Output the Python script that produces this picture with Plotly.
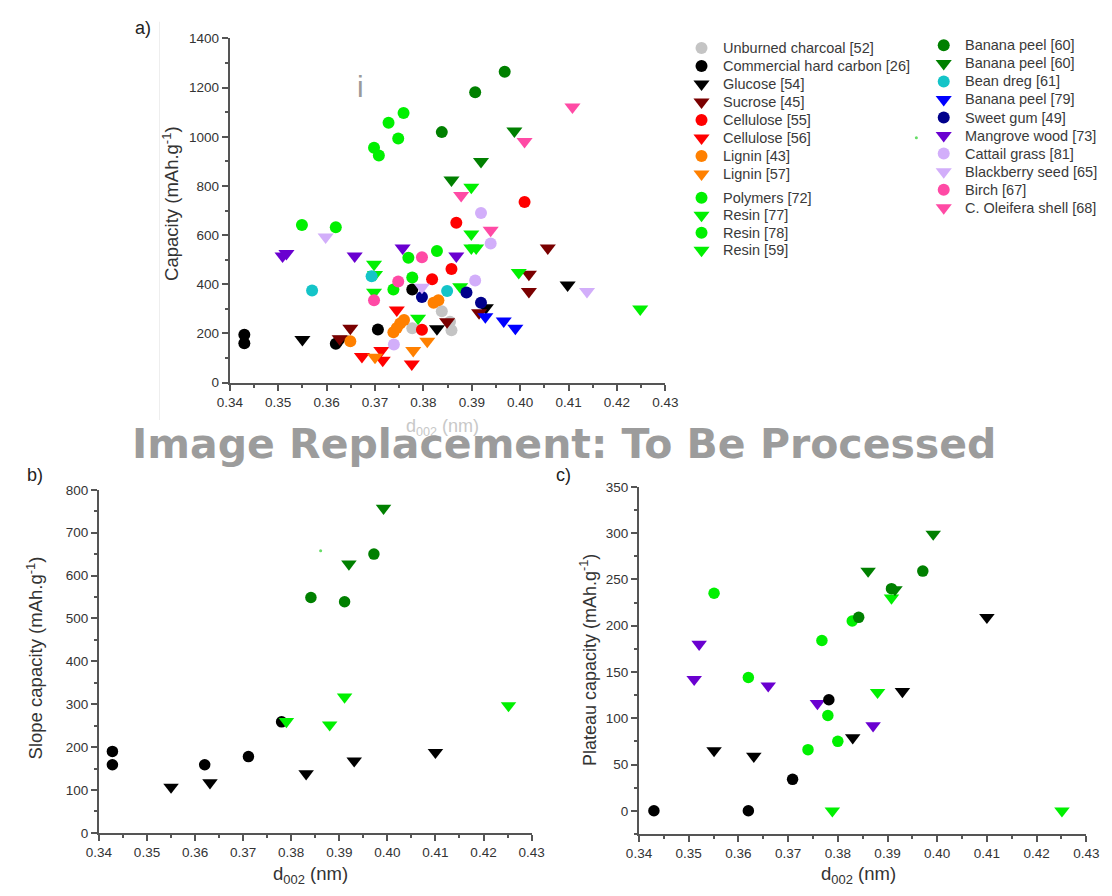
import plotly.graph_objects as go

W, H = 1112, 896

# ---------------- Panel a: total capacity vs d002 ----------------
unburned_x = [0.3777, 0.3838, 0.3855, 0.3858]
unburned_y = [221, 290, 248, 213]
hard_carbon_x = [0.3430, 0.3430, 0.3619, 0.3706, 0.3777]
hard_carbon_y = [195, 160, 158, 216, 379]
glucose_x = [0.3550, 0.3630, 0.3828, 0.3929, 0.4098]
glucose_y = [175, 176, 219, 304, 397]
sucrose_x = [0.3627, 0.3649, 0.3849, 0.3915, 0.4018, 0.4018, 0.4057]
sucrose_y = [178, 221, 248, 284, 441, 371, 548]
cell55_x = [0.3797, 0.3818, 0.3858, 0.3868, 0.4009]
cell55_y = [215, 420, 462, 650, 735]
cell56_x = [0.3673, 0.3713, 0.3716, 0.3745, 0.3776]
cell56_y = [106, 131, 91, 295, 76]
lignin43_x = [0.3649, 0.3738, 0.3745, 0.3752, 0.3760, 0.3821, 0.3831]
lignin43_y = [168, 205, 222, 240, 255, 325, 335]
lignin57_x = [0.3700, 0.3779, 0.3808]
lignin57_y = [103, 131, 168]
polymers_x = [0.3549, 0.3619, 0.3738, 0.3769, 0.3777, 0.3828]
polymers_y = [641, 632, 379, 508, 428, 535]
resin77_x = [0.3789, 0.3876, 0.3899, 0.4248]
resin77_y = [262, 390, 548, 299]
resin78_x = [0.3698, 0.3708, 0.3728, 0.3748, 0.3759]
resin78_y = [955, 924, 1057, 993, 1097]
resin59_x = [0.3698, 0.3700, 0.3698, 0.3909, 0.3899, 0.3899, 0.3997]
resin59_y = [481, 440, 368, 548, 605, 795, 448]
banana60c_x = [0.3838, 0.3907, 0.3968]
banana60c_y = [1019, 1181, 1265]
banana60t_x = [0.3858, 0.3919, 0.3988]
banana60t_y = [824, 899, 1024]
bean_x = [0.3570, 0.3693, 0.3849]
bean_y = [375, 433, 373]
banana79_x = [0.3928, 0.3966, 0.3990]
banana79_y = [268, 251, 221]
sweetgum_x = [0.3797, 0.3889, 0.3919]
sweetgum_y = [348, 367, 325]
mangrove_x = [0.3509, 0.3517, 0.3658, 0.3757, 0.3868]
mangrove_y = [515, 525, 515, 548, 515]
cattail_x = [0.3739, 0.3907, 0.3919, 0.3939]
cattail_y = [155, 415, 690, 566]
blackberry_x = [0.3598, 0.3797, 0.4138]
blackberry_y = [592, 388, 371]
birch_x = [0.3698, 0.3748, 0.3797]
birch_y = [335, 411, 510]
oleifera_x = [0.3878, 0.3939, 0.4009, 0.4108]
oleifera_y = [761, 620, 981, 1121]

# ---------------- Panel b: slope capacity ----------------
b_hc_x = [0.3428, 0.3428, 0.3620, 0.3711, 0.3780]
b_hc_y = [190, 159, 159, 178, 259]
b_glu_x = [0.3550, 0.3631, 0.3831, 0.3931, 0.4100]
b_glu_y = [107, 117, 138, 168, 188]
b_resin_x = [0.3790, 0.3880, 0.3911, 0.4252]
b_resin_y = [260, 252, 317, 297]
b_banc_x = [0.3841, 0.3911, 0.3972]
b_banc_y = [549, 539, 650]
b_bant_x = [0.3920, 0.3992]
b_bant_y = [627, 757]

# ---------------- Panel c: plateau capacity ----------------
c_mang_x = [0.3511, 0.3521, 0.3660, 0.3759, 0.3871]
c_mang_y = [142, 180, 135, 116, 92]
c_hc_x = [0.3430, 0.3620, 0.3709, 0.3782]
c_hc_y = [0, 0, 34, 120]
c_glu_x = [0.3551, 0.3631, 0.3830, 0.3930, 0.4100]
c_glu_y = [65, 59, 79, 129, 209]
c_poly_x = [0.3551, 0.3620, 0.3740, 0.3768, 0.3780, 0.3800, 0.3829]
c_poly_y = [235, 144, 66, 184, 103, 75, 205]
c_resin_x = [0.3789, 0.3880, 0.3908, 0.4251]
c_resin_y = [0, 128, 230, 0]
c_banc_x = [0.3842, 0.3908, 0.3971]
c_banc_y = [209, 240, 259]
c_bant_x = [0.3861, 0.3915, 0.3992]
c_bant_y = [259, 239, 299]

GRAY = "#C4C4C4"; BLACK = "#000000"; MAROON = "#7A0000"; RED = "#FF0000"
ORANGE = "#FF8000"; LIME = "#00F000"; DGREEN = "#008000"; CYAN = "#14C4C8"
BLUE = "#0000FF"; NAVY = "#00008B"; PURPLE = "#6A00D0"; LAV = "#D2AEFA"
PINK = "#FF4AA5"

col1 = [
    ("Unburned charcoal [52]", GRAY, "circle", unburned_x, unburned_y),
    ("Commercial hard carbon [26]", BLACK, "circle", hard_carbon_x, hard_carbon_y),
    ("Glucose [54]", BLACK, "triangle-down", glucose_x, glucose_y),
    ("Sucrose [45]", MAROON, "triangle-down", sucrose_x, sucrose_y),
    ("Cellulose [55]", RED, "circle", cell55_x, cell55_y),
    ("Cellulose [56]", RED, "triangle-down", cell56_x, cell56_y),
    ("Lignin [43]", ORANGE, "circle", lignin43_x, lignin43_y),
    ("Lignin [57]", ORANGE, "triangle-down", lignin57_x, lignin57_y),
    ("Polymers [72]", LIME, "circle", polymers_x, polymers_y),
    ("Resin [77]", LIME, "triangle-down", resin77_x, resin77_y),
    ("Resin [78]", LIME, "circle", resin78_x, resin78_y),
    ("Resin [59]", LIME, "triangle-down", resin59_x, resin59_y),
]
col2 = [
    ("Banana peel [60]", DGREEN, "circle", banana60c_x, banana60c_y),
    ("Banana peel [60]", DGREEN, "triangle-down", banana60t_x, banana60t_y),
    ("Bean dreg [61]", CYAN, "circle", bean_x, bean_y),
    ("Banana peel [79]", BLUE, "triangle-down", banana79_x, banana79_y),
    ("Sweet gum [49]", NAVY, "circle", sweetgum_x, sweetgum_y),
    ("Mangrove wood [73]", PURPLE, "triangle-down", mangrove_x, mangrove_y),
    ("Cattail grass [81]", LAV, "circle", cattail_x, cattail_y),
    ("Blackberry seed [65]", LAV, "triangle-down", blackberry_x, blackberry_y),
    ("Birch [67]", PINK, "circle", birch_x, birch_y),
    ("C. Oleifera shell [68]", PINK, "triangle-down", oleifera_x, oleifera_y),
]

panel_b = [
    (BLACK, "circle", b_hc_x, b_hc_y),
    (BLACK, "triangle-down", b_glu_x, b_glu_y),
    (LIME, "triangle-down", b_resin_x, b_resin_y),
    (DGREEN, "circle", b_banc_x, b_banc_y),
    (DGREEN, "triangle-down", b_bant_x, b_bant_y),
]
panel_c = [
    (PURPLE, "triangle-down", c_mang_x, c_mang_y),
    (BLACK, "circle", c_hc_x, c_hc_y),
    (BLACK, "triangle-down", c_glu_x, c_glu_y),
    (LIME, "circle", c_poly_x, c_poly_y),
    (LIME, "triangle-down", c_resin_x, c_resin_y),
    (DGREEN, "circle", c_banc_x, c_banc_y),
    (DGREEN, "triangle-down", c_bant_x, c_bant_y),
]

CIRC = 12
TRI = 14


def msize(sym):
    return CIRC if sym == "circle" else TRI


fig = go.Figure()

for name, col, sym, xs, ys in col1 + col2:
    fig.add_trace(go.Scatter(x=xs, y=ys, mode="markers", name=name, showlegend=False,
                             marker=dict(color=col, symbol=sym, size=msize(sym), opacity=1,
                                         line=dict(width=0)),
                             xaxis="x", yaxis="y"))
for col, sym, xs, ys in panel_b:
    fig.add_trace(go.Scatter(x=xs, y=ys, mode="markers", showlegend=False,
                             marker=dict(color=col, symbol=sym, size=msize(sym) - 0.5, opacity=1,
                                         line=dict(width=0)),
                             xaxis="x2", yaxis="y2"))
for col, sym, xs, ys in panel_c:
    fig.add_trace(go.Scatter(x=xs, y=ys, mode="markers", showlegend=False,
                             marker=dict(color=col, symbol=sym, size=msize(sym) - 0.5, opacity=1,
                                         line=dict(width=0)),
                             xaxis="x3", yaxis="y3"))

# ---- manual legend (overlay axis in pixel units) ----
L1_MX, L1_TX, L1_Y0, L1_STEP = 705, 725, 41.7, 18.3
L1_Y1, L1_STEP2 = 194.0, 17.8
L2_MX, L2_TX, L2_Y0, L2_STEP = 953, 973, 39.0, 18.35
LEG_FONT = dict(family="Liberation Sans, Arial", size=14.5, color="#3a3a3a")

annotations = []
leg_x, leg_y, leg_c, leg_s = [], [], [], []
for i, (name, col, sym, _, _) in enumerate(col1):
    yy = L1_Y0 + i * L1_STEP if i < 8 else L1_Y1 + (i - 8) * L1_STEP2
    leg_x.append(L1_MX); leg_y.append(yy); leg_c.append(col); leg_s.append(sym)
    annotations.append(dict(x=L1_TX / W, y=1 - yy / H, text=name, xanchor="left", font=LEG_FONT))
for i, (name, col, sym, _, _) in enumerate(col2):
    yy = L2_Y0 + i * L2_STEP
    leg_x.append(L2_MX); leg_y.append(yy); leg_c.append(col); leg_s.append(sym)
    annotations.append(dict(x=L2_TX / W, y=1 - yy / H, text=name, xanchor="left", font=LEG_FONT))
fig.add_trace(go.Scatter(x=leg_x, y=leg_y, mode="markers", showlegend=False,
                         marker=dict(color=leg_c, symbol=leg_s, size=[msize(s) for s in leg_s],
                                     opacity=1, line=dict(width=0)),
                         xaxis="x4", yaxis="y4", cliponaxis=False))
# tiny stray specks present in the figure
fig.add_trace(go.Scatter(x=[925, 315], y=[133, 553], mode="markers", showlegend=False,
                         marker=dict(color="#66dd66", size=3, opacity=1, line=dict(width=0)),
                         xaxis="x4", yaxis="y4"))


def axstyle(domain, rng, dtick, mdtick, anchor, fmt=None, tick0=0):
    d = dict(domain=domain, range=rng, anchor=anchor, showline=True, linecolor="#555555",
             linewidth=2, ticks="outside", ticklen=6, tickwidth=1.5, tickcolor="#555555",
             showgrid=False, zeroline=False, dtick=dtick, tick0=tick0,
             tickfont=dict(family="Liberation Sans, Arial", size=13.5, color="#333333"),
             minor=dict(ticks="outside", ticklen=3, tickwidth=1.5, tickcolor="#555555",
                        dtick=mdtick, showgrid=False))
    if fmt:
        d["tickformat"] = fmt
    return d


def px(x):
    return x / W


def py(y):
    return 1 - y / H


fig.update_layout(
    width=W, height=H, margin=dict(l=0, r=0, t=0, b=0),
    paper_bgcolor="white", plot_bgcolor="rgba(0,0,0,0)", showlegend=False,
    xaxis=axstyle([px(222), px(668)], [0.34, 0.43], 0.01, 0.005, "y", ".2f", 0.34),
    yaxis=axstyle([py(382), py(32)], [0, 1400], 200, 100, "x"),
    xaxis2=axstyle([px(88), px(531)], [0.34, 0.43], 0.01, 0.005, "y2", ".2f", 0.34),
    yaxis2=axstyle([py(840), py(491)], [0, 800], 100, 50, "x2"),
    xaxis3=axstyle([px(641), px(1099)], [0.34, 0.43], 0.01, 0.005, "y3", ".2f", 0.34),
    yaxis3=axstyle([py(841), py(488)], [-25, 350], 50, 25, "x3"),
    xaxis4=dict(domain=[0, 1], range=[0, W], visible=False, anchor="y4", fixedrange=True),
    yaxis4=dict(domain=[0, 1], range=[H, 0], visible=False, anchor="x4", fixedrange=True),
)

TF = dict(family="Liberation Sans, Arial", size=18.5, color="#333333")
TFC = dict(family="Liberation Sans, Arial", size=18, color="#333333")
PL = dict(family="Liberation Sans, Arial", size=18, color="#222222")
annotations += [
    dict(x=px(133), y=py(21), text="a)", font=PL),
    dict(x=px(23), y=py(476), text="b)", font=PL),
    dict(x=px(564), y=py(476), text="c)", font=PL),
    dict(x=px(161), y=py(200), text="Capacity (mAh.g<sup>-1</sup>)", textangle=-90, font=TF),
    dict(x=px(22), y=py(662), text="Slope capacity (mAh.g<sup>-1</sup>)", textangle=-90, font=TF),
    dict(x=px(590), y=py(664), text="Plateau capacity (mAh.g<sup>-1</sup>)", textangle=-90, font=TFC),
    dict(x=px(440), y=py(428), text="d<sub>002</sub> (nm)",
         font=dict(family="Liberation Sans, Arial", size=18, color="#c8c8c8")),
    dict(x=px(305), y=py(883), text="d<sub>002</sub> (nm)", font=TF),
    dict(x=px(866), y=py(883), text="d<sub>002</sub> (nm)", font=TF),
    dict(x=px(356), y=py(81), text="i", font=dict(family="Liberation Sans, Arial", size=30, color="#9a9a9a")),
    dict(x=px(564), y=py(444), text="<b>Image Replacement: To Be Processed</b>",
         font=dict(family="DejaVu Sans", size=41, color="#9c9c9c")),
]
for a in annotations:
    a.setdefault("xref", "paper")
    a.setdefault("yref", "paper")
    a.setdefault("showarrow", False)
    a.setdefault("xanchor", "center")
    a.setdefault("yanchor", "middle")
fig.update_layout(annotations=annotations)
fig.add_shape(type="line", xref="paper", yref="paper", x0=px(150), x1=px(150), y0=py(15), y1=py(420),
              line=dict(color="#eeeeee", width=1))

fig.write_html("out.html")
